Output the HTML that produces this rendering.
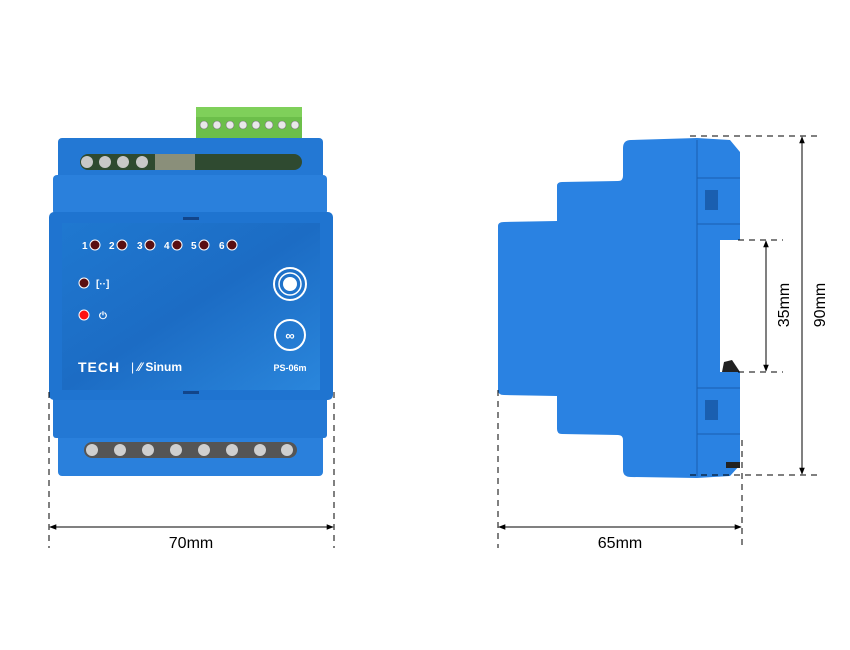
<!DOCTYPE html>
<html><head><meta charset="utf-8"><style>
html,body{margin:0;padding:0;background:#fff;width:850px;height:650px;overflow:hidden}
text{font-family:"Liberation Sans",sans-serif}
</style></head><body>
<svg width="850" height="650" viewBox="0 0 850 650" xmlns="http://www.w3.org/2000/svg">
<defs>
<linearGradient id="pg" x1="0" y1="0" x2="1" y2="1">
<stop offset="0" stop-color="#1f78d0"/><stop offset="0.5" stop-color="#1c6cc4"/><stop offset="1" stop-color="#2a86dc"/></linearGradient>
<marker id="ar" viewBox="0 0 10 10" refX="9" refY="5" markerWidth="7" markerHeight="7" orient="auto-start-reverse"><path d="M0,1 L10,5 L0,9 z" fill="#000"/></marker>
</defs>
<!-- FRONT VIEW -->
<rect x="196" y="107" width="106" height="32" fill="#6cbf4a"/>
<rect x="196" y="107" width="106" height="10" fill="#7fd05a"/>
<g fill="#e8e8e8" stroke="#777" stroke-width="0.6">
<circle cx="204" cy="125" r="4"/><circle cx="217" cy="125" r="4"/><circle cx="230" cy="125" r="4"/><circle cx="243" cy="125" r="4"/><circle cx="256" cy="125" r="4"/><circle cx="269" cy="125" r="4"/><circle cx="282" cy="125" r="4"/><circle cx="295" cy="125" r="4"/></g>
<rect x="58" y="138" width="265" height="42" rx="4" fill="#2378d4"/>
<rect x="80" y="154" width="222" height="16" rx="8" fill="#2f4a30"/>
<rect x="155" y="154" width="40" height="16" fill="#8a8f7a"/>
<g fill="#c8c8c8"><circle cx="87" cy="162" r="6"/><circle cx="105" cy="162" r="6"/><circle cx="123" cy="162" r="6"/><circle cx="142" cy="162" r="6"/></g>
<rect x="53" y="175" width="274" height="40" rx="4" fill="#2a80dc"/>
<rect x="58" y="433" width="265" height="43" rx="4" fill="#2a80dc"/>
<rect x="84" y="442" width="213" height="16" rx="8" fill="#555"/>
<g fill="#cfcfcf"><circle cx="92" cy="450" r="6"/><circle cx="120" cy="450" r="6"/><circle cx="148" cy="450" r="6"/><circle cx="176" cy="450" r="6"/><circle cx="204" cy="450" r="6"/><circle cx="232" cy="450" r="6"/><circle cx="260" cy="450" r="6"/><circle cx="287" cy="450" r="6"/></g>
<rect x="53" y="396" width="274" height="42" rx="3" fill="#2378d4"/>
<rect x="49" y="212" width="284" height="188" rx="5" fill="#1f74d0"/>
<rect x="62" y="223" width="258" height="167" fill="url(#pg)"/>
<rect x="183" y="217" width="16" height="3" fill="#12458a"/>
<rect x="183" y="391" width="16" height="3" fill="#12458a"/>
<g font-size="10" font-weight="bold" fill="#fff">
<text x="82" y="249">1</text><text x="109" y="249">2</text><text x="137" y="249">3</text><text x="164" y="249">4</text><text x="191" y="249">5</text><text x="219" y="249">6</text></g>
<g fill="#5a0f12" stroke="#fff" stroke-width="1"><circle cx="95" cy="245" r="5"/><circle cx="122" cy="245" r="5"/><circle cx="150" cy="245" r="5"/><circle cx="177" cy="245" r="5"/><circle cx="204" cy="245" r="5"/><circle cx="232" cy="245" r="5"/><circle cx="84" cy="283" r="5"/></g>
<circle cx="84" cy="315" r="5" fill="#ff1010" stroke="#fff" stroke-width="1"/>
<text x="96" y="287" font-size="10" font-weight="bold" fill="#fff">[··]</text>
<text x="99" y="319" font-size="10" font-weight="bold" fill="#fff">⏻</text>
<circle cx="290" cy="284" r="16" fill="none" stroke="#fff" stroke-width="2"/>
<circle cx="290" cy="284" r="11" fill="none" stroke="#fff" stroke-width="1.5"/>
<circle cx="290" cy="284" r="7" fill="#fff"/>
<circle cx="290" cy="335" r="15" fill="none" stroke="#fff" stroke-width="2"/>
<text x="290" y="340" font-size="13" font-weight="bold" fill="#fff" text-anchor="middle">∞</text>
<text x="290" y="371" font-size="9" font-weight="bold" fill="#fff" text-anchor="middle">PS-06m</text>
<text x="78" y="372" font-size="14" font-weight="bold" fill="#fff" letter-spacing="1">TECH</text>
<text x="131" y="371" font-size="12" fill="#fff">|</text>
<text x="138" y="371" font-size="12" font-weight="bold" fill="#fff">⁄⁄ Sinum</text>
<!-- SIDE VIEW -->
<path d="M498,226 Q498,222 504,222 L557,221 L557,186 Q557,182 562,182 L618,181 Q623,181 623,176 L623,148 Q623,140 631,140 L697,138 L697,478 L631,477 Q623,477 623,470 L623,440 Q623,435 618,435 L562,434 Q557,434 557,429 L557,396 L504,395 Q498,395 498,390 Z" fill="#2a82e2"/>
<path d="M697,138 L730,140 L740,152 L740,240 L720,240 L720,372 L740,372 L740,465 L730,476 L697,478 Z" fill="#2a82e2"/>
<g stroke="#1a5fb0" stroke-width="1" fill="none"><line x1="697" y1="140" x2="697" y2="476"/><line x1="697" y1="178" x2="740" y2="178"/><line x1="697" y1="224" x2="740" y2="224"/><line x1="697" y1="388" x2="740" y2="388"/><line x1="697" y1="434" x2="740" y2="434"/></g>
<rect x="705" y="190" width="13" height="20" fill="#1a5fb0"/>
<rect x="705" y="400" width="13" height="20" fill="#1a5fb0"/>
<path d="M724,362 L732,360 L740,372 L722,372 Z" fill="#222"/>
<rect x="726" y="462" width="14" height="6" fill="#222"/>
<!-- DIMENSIONS -->
<g stroke="#000" stroke-width="1" stroke-dasharray="6,5" fill="none">
<line x1="49" y1="392" x2="49" y2="548"/><line x1="334" y1="392" x2="334" y2="548"/>
<line x1="498" y1="390" x2="498" y2="548"/><line x1="742" y1="440" x2="742" y2="548"/>
<line x1="690" y1="136" x2="822" y2="136"/><line x1="690" y1="475" x2="822" y2="475"/>
<line x1="738" y1="240" x2="783" y2="240"/><line x1="738" y1="372" x2="783" y2="372"/>
</g>
<g stroke="#000" stroke-width="1">
<line x1="50" y1="527" x2="333" y2="527" marker-start="url(#ar)" marker-end="url(#ar)"/>
<line x1="499" y1="527" x2="741" y2="527" marker-start="url(#ar)" marker-end="url(#ar)"/>
<line x1="802" y1="137" x2="802" y2="474" marker-start="url(#ar)" marker-end="url(#ar)"/>
<line x1="766" y1="241" x2="766" y2="371" marker-start="url(#ar)" marker-end="url(#ar)"/>
</g>
<g font-size="16" fill="#000">
<text x="191" y="548" text-anchor="middle">70mm</text>
<text x="620" y="548" text-anchor="middle">65mm</text>
<text transform="translate(825,305) rotate(-90)" text-anchor="middle">90mm</text>
<text transform="translate(789,305) rotate(-90)" text-anchor="middle">35mm</text>
</g>
</svg>
</body></html>
